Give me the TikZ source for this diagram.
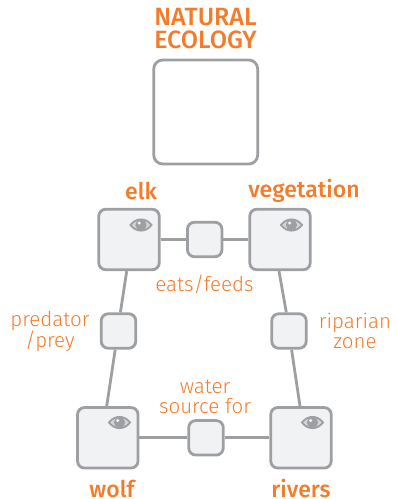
\documentclass[tikz,border=0pt]{standalone}
\usepackage{fontspec}
\setmainfont{Fira Sans}
\newfontfamily\lightfont{Fira Sans Light}
\newfontfamily\medfont{Fira Sans Medium}
\definecolor{boxgray}{HTML}{9D9FA2}
\definecolor{boxfill}{HTML}{F1F2F4}
\definecolor{orng}{HTML}{F47B2A}
\tikzset{
  conn/.style={draw=boxgray,line width=2.8pt},
  bigbox/.style={draw=boxgray,line width=2.8pt,fill=boxfill,rounded corners=7pt,minimum size=60.5pt,inner sep=0pt},
  smallbox/.style={draw=boxgray,line width=2.8pt,fill=boxfill,rounded corners=7pt,minimum size=34.5pt,inner sep=0pt},
  framebox/.style={draw=boxgray,line width=2.8pt,fill=white,rounded corners=9pt,minimum size=104pt,inner sep=0pt},
  head/.style={text=orng,font=\medfont\fontsize{23}{23}\selectfont,inner sep=0pt,align=center},
  lab/.style={text=orng,font=\lightfont\fontsize{20.5}{20}\selectfont,inner sep=0pt,align=center},
  eye/.pic={
    \fill[boxgray!45!white,draw=boxgray,line width=1.8pt] (-10.5,0) .. controls (-5,-7.5) and (5,-7.5) .. (10.5,0) .. controls (5,7.5) and (-5,7.5) .. (-10.5,0) -- cycle;
    \fill[boxgray] (0,0) circle (5.6);
    \fill[boxfill] (-1.8,-2) circle (1.7);
  }
}
\begin{document}
\begin{tikzpicture}[x=1pt,y=-1pt]
\useasboundingbox (0,0) rectangle (398,499);
\node[framebox] (top) at (205.7,112) {};
\node[bigbox] (elk) at (129,239.5) {};
\node[bigbox] (veg) at (280,239.5) {};
\node[bigbox] (wolf) at (107.8,437.8) {};
\node[bigbox] (riv) at (301,437.8) {};
\node[smallbox] (eats) at (204.7,239.5) {};
\node[smallbox] (pred) at (118.5,331) {};
\node[smallbox] (rip) at (289,331) {};
\node[smallbox] (water) at (206,437.8) {};
\draw[conn] (elk) -- (eats);
\draw[conn] (eats) -- (veg);
\draw[conn] (wolf) -- (water);
\draw[conn] (water) -- (riv);
\draw[conn] ([xshift=-2.3pt]elk.south) -- ([xshift=1.9pt]pred.north);
\draw[conn] ([xshift=-3.3pt]pred.south) -- ([xshift=-1.1pt]wolf.north);
\draw[conn] ([xshift=-1pt]veg.south) -- ([xshift=-2.7pt]rip.north);
\draw[conn] ([xshift=2.6pt]rip.south) -- ([xshift=-1pt]riv.north);
\pic at (141,225) {eye};
\pic at (291.5,225) {eye};
\pic at (119.5,422.5) {eye};
\pic at (312.5,422.5) {eye};
\node[head,font=\medfont\fontsize{25}{23}\selectfont] (title) at (205.5,28.5) {NATURAL\\ECOLOGY};
\node[head] (elkt) at (141,191) {elk};
\node[head] (vegt) at (304,191) {vegetation};
\node[head] (wolft) at (112,488.5) {wolf};
\node[head] (rivt) at (301,488.5) {rivers};
\node[lab] (eatst) at (204.5,284) {eats/feeds};
\node[lab] (predt) at (50,331.5) {predator\\/prey};
\node[lab] (ript) at (355,330.5) {riparian\\zone};
\node[lab] (watert) at (205,396.5) {water\\source for};
\end{tikzpicture}
\end{document}
